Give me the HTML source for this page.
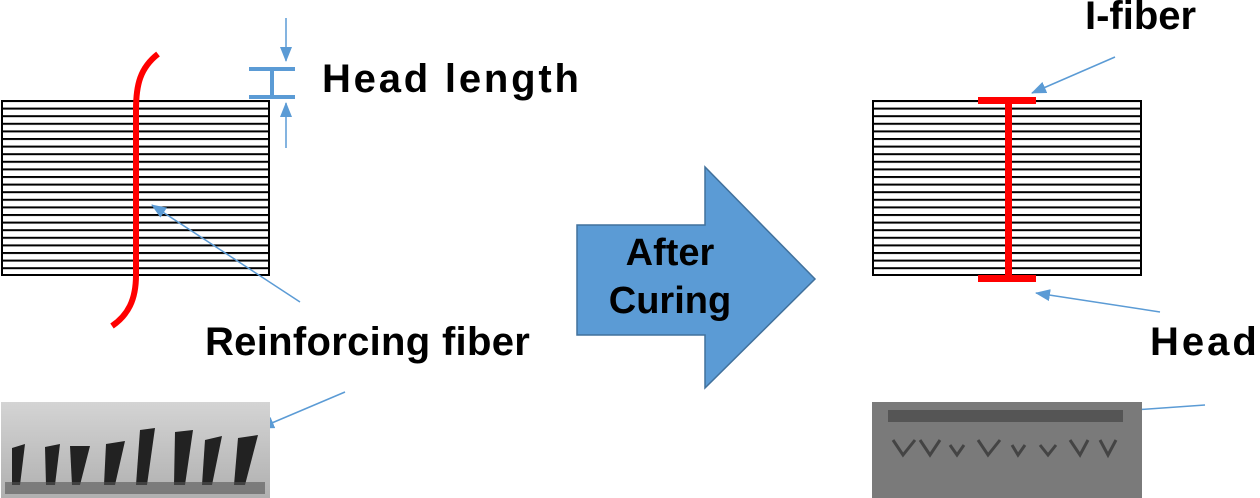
<!DOCTYPE html>
<html><head><style>
body{margin:0;background:#fff;width:1260px;height:498px;overflow:hidden;position:relative;font-family:"Liberation Sans",sans-serif}
.t{position:absolute;font-weight:bold;color:#000;white-space:nowrap;font-size:40px}
</style></head><body>
<svg width="1260" height="498" style="position:absolute;left:0;top:0">
<defs>
<pattern id="lines" x="0" y="100" width="10" height="7.6" patternUnits="userSpaceOnUse"><rect width="10" height="2" fill="#000"/></pattern>
<linearGradient id="g1" x1="0" y1="0" x2="0" y2="1"><stop offset="0" stop-color="#d4d4d4"/><stop offset="1" stop-color="#b0b0b0"/></linearGradient>
<marker id="ah" markerWidth="15" markerHeight="12" refX="14" refY="6" orient="auto" markerUnits="userSpaceOnUse" viewBox="0 0 15 12"><path d="M0,0 L15,6 L0,12z" fill="#5b9bd5"/></marker>
</defs>
<rect x="1" y="100" width="269" height="176" fill="url(#lines)"/>
<rect x="2" y="101" width="267" height="174" fill="none" stroke="#000" stroke-width="2"/>
<rect x="872" y="100" width="270" height="176" fill="url(#lines)"/>
<rect x="873" y="101" width="268" height="174" fill="none" stroke="#000" stroke-width="2"/>
<path d="M158,54 C140,68 136,85 136,110 L136,275 C136,300 128,315 112,326" fill="none" stroke="#f00" stroke-width="6"/>
<rect x="978" y="97" width="58" height="7" fill="#f00"/>
<rect x="1005" y="100" width="7" height="178" fill="#f00"/>
<rect x="978" y="275" width="58" height="7" fill="#f00"/>
<g stroke="#5b9bd5" stroke-width="4"><line x1="249" y1="69" x2="295" y2="69"/><line x1="249" y1="97" x2="295" y2="97"/><line x1="272" y1="69" x2="272" y2="97"/></g>
<g stroke="#5b9bd5" stroke-width="1.5"><line x1="286" y1="18" x2="286" y2="61" marker-end="url(#ah)"/><line x1="286" y1="148" x2="286" y2="103" marker-end="url(#ah)"/>
<line x1="300" y1="302" x2="152" y2="205" marker-end="url(#ah)"/>
<line x1="345" y1="392" x2="260" y2="428" marker-end="url(#ah)"/>
<line x1="1115" y1="57" x2="1032" y2="93" marker-end="url(#ah)"/>
<line x1="1160" y1="312" x2="1036" y2="293" marker-end="url(#ah)"/>
<line x1="1205" y1="405" x2="1120" y2="411" marker-end="url(#ah)"/></g>
<path d="M577,225 L705,225 L705,167 L815,279 L705,388 L705,335 L577,335 Z" fill="#5b9bd5" stroke="#41719c" stroke-width="1.5"/>
<rect x="1" y="402" width="269" height="96" fill="url(#g1)"/>
<g fill="#222">
<path d="M12,448 L25,444 L20,485 L12,485Z"/><path d="M45,447 L60,444 L55,485 L46,485Z"/><path d="M70,446 L90,446 L80,485 L72,485Z"/><path d="M106,444 L125,441 L115,485 L104,485Z"/><path d="M140,430 L155,428 L147,485 L136,485Z"/><path d="M175,432 L193,430 L185,485 L174,485Z"/><path d="M205,440 L222,436 L212,485 L202,485Z"/><path d="M238,438 L258,435 L245,485 L234,485Z"/>
</g>
<g fill="#555" opacity="0.6"><rect x="5" y="482" width="260" height="12"/></g>
<rect x="872" y="402" width="270" height="96" fill="#7a7a7a"/>
<rect x="888" y="410" width="235" height="12" fill="#555"/>
<g fill="none" stroke="#444" stroke-width="3">
<path d="M893,440 L903,455 L915,440"/><path d="M920,440 L930,455 L940,440"/><path d="M950,445 L957,455 L964,445"/><path d="M978,440 L988,455 L1000,440"/><path d="M1012,445 L1018,455 L1025,445"/><path d="M1040,445 L1048,455 L1056,445"/><path d="M1070,440 L1080,455 L1088,440"/><path d="M1100,440 L1108,455 L1116,440"/>
</g>
</svg>
<div class="t" style="left:322px;top:57px;letter-spacing:2.8px">Head length</div>
<div class="t" style="left:205px;top:320px;letter-spacing:0.3px">Reinforcing fiber</div>
<div class="t" style="left:1085px;top:-6px">I-fiber</div>
<div class="t" style="left:1150px;top:320px;letter-spacing:3px">Head</div>
<div class="t" style="left:597px;top:229px;width:146px;text-align:center;font-size:38px;line-height:48px">After<br>Curing</div>
</body></html>
